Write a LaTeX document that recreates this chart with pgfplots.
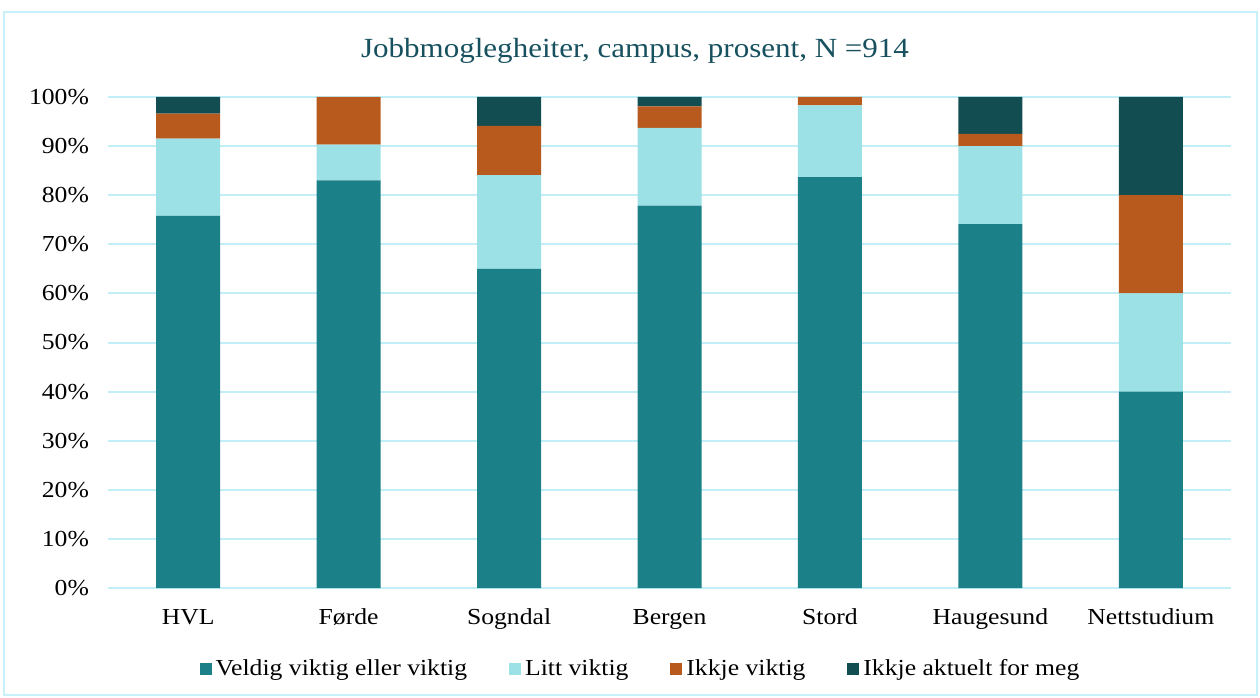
\documentclass[border=0pt]{standalone}
\usepackage{fontspec}
\setmainfont{Liberation Serif}[FakeStretch=1.12]
\usepackage{pgfplots}
\pgfplotsset{compat=1.18}
\definecolor{veldig}{HTML}{1B8087}
\definecolor{litt}{HTML}{9BE1E5}
\definecolor{ikkje}{HTML}{B85A1E}
\definecolor{aktuelt}{HTML}{124D52}
\definecolor{gridcol}{HTML}{C2EEF8}
\definecolor{titlecol}{HTML}{17505E}
\definecolor{framecol}{HTML}{C8F0F8}

\begin{document}
\begin{tikzpicture}[x=1bp,y=1bp]
\useasboundingbox (-54,-54.5) rectangle (576,294);
\draw[framecol, line width=1bp] (-52,-53.5) rectangle (574.5,288);
\node[font=\fontsize{13.9}{16}\selectfont, text=titlecol] at (263.5,268.5) {Jobbmoglegheiter, campus, prosent, N =914};
\begin{axis}[
    at={(0,0)}, anchor=south west,
    scale only axis,
    width=561.5bp, height=245.5bp,
    ybar stacked,
    bar width=32bp,
    xmin=-0.5, xmax=6.5,
    ymin=0, ymax=100,
    xtick={0,...,6},
    xticklabels={HVL,Førde,Sogndal,Bergen,Stord,Haugesund,Nettstudium},
    ytick={0,10,...,100},
    yticklabel={\pgfmathprintnumber{\tick}\%},
    ymajorgrids,
    grid style={draw=gridcol, line width=1bp},
    axis line style={draw=none},
    major tick length=0pt,
    tick label style={font=\fontsize{11.5}{13}\selectfont},
    yticklabel style={xshift=-6bp},
    xticklabel style={yshift=-7bp},
    /pgf/number format/assume math mode=true,
    legend columns=4,
    legend style={at={(axis description cs:0.475,-0.165)}, anchor=center,
        draw=none, fill=none, font=\fontsize{11.5}{13}\selectfont,
        /tikz/every even column/.append style={column sep=19bp}},
    legend image code/.code={\fill[#1] (0bp,-3bp) rectangle (6bp,3bp);},
]
\addplot+[fill=veldig, draw=none] coordinates {
    (0,75.8) (1,83.0) (2,65.0) (3,77.9) (4,83.7) (5,74.1) (6,40.0)
};
\addlegendentry{Veldig viktig eller viktig}
\addplot+[fill=litt, draw=none] coordinates {
    (0,15.7) (1,7.3) (2,19.1) (3,15.8) (4,14.6) (5,15.9) (6,20.0)
};
\addlegendentry{Litt viktig}
\addplot+[fill=ikkje, draw=none] coordinates {
    (0,5.1) (1,9.7) (2,10.0) (3,4.4) (4,1.7) (5,2.5) (6,20.0)
};
\addlegendentry{Ikkje viktig}
\addplot+[fill=aktuelt, draw=none] coordinates {
    (0,3.4) (1,0) (2,5.9) (3,1.9) (4,0) (5,7.5) (6,20.0)
};
\addlegendentry{Ikkje aktuelt for meg}
\end{axis}
\end{tikzpicture}
\end{document}
